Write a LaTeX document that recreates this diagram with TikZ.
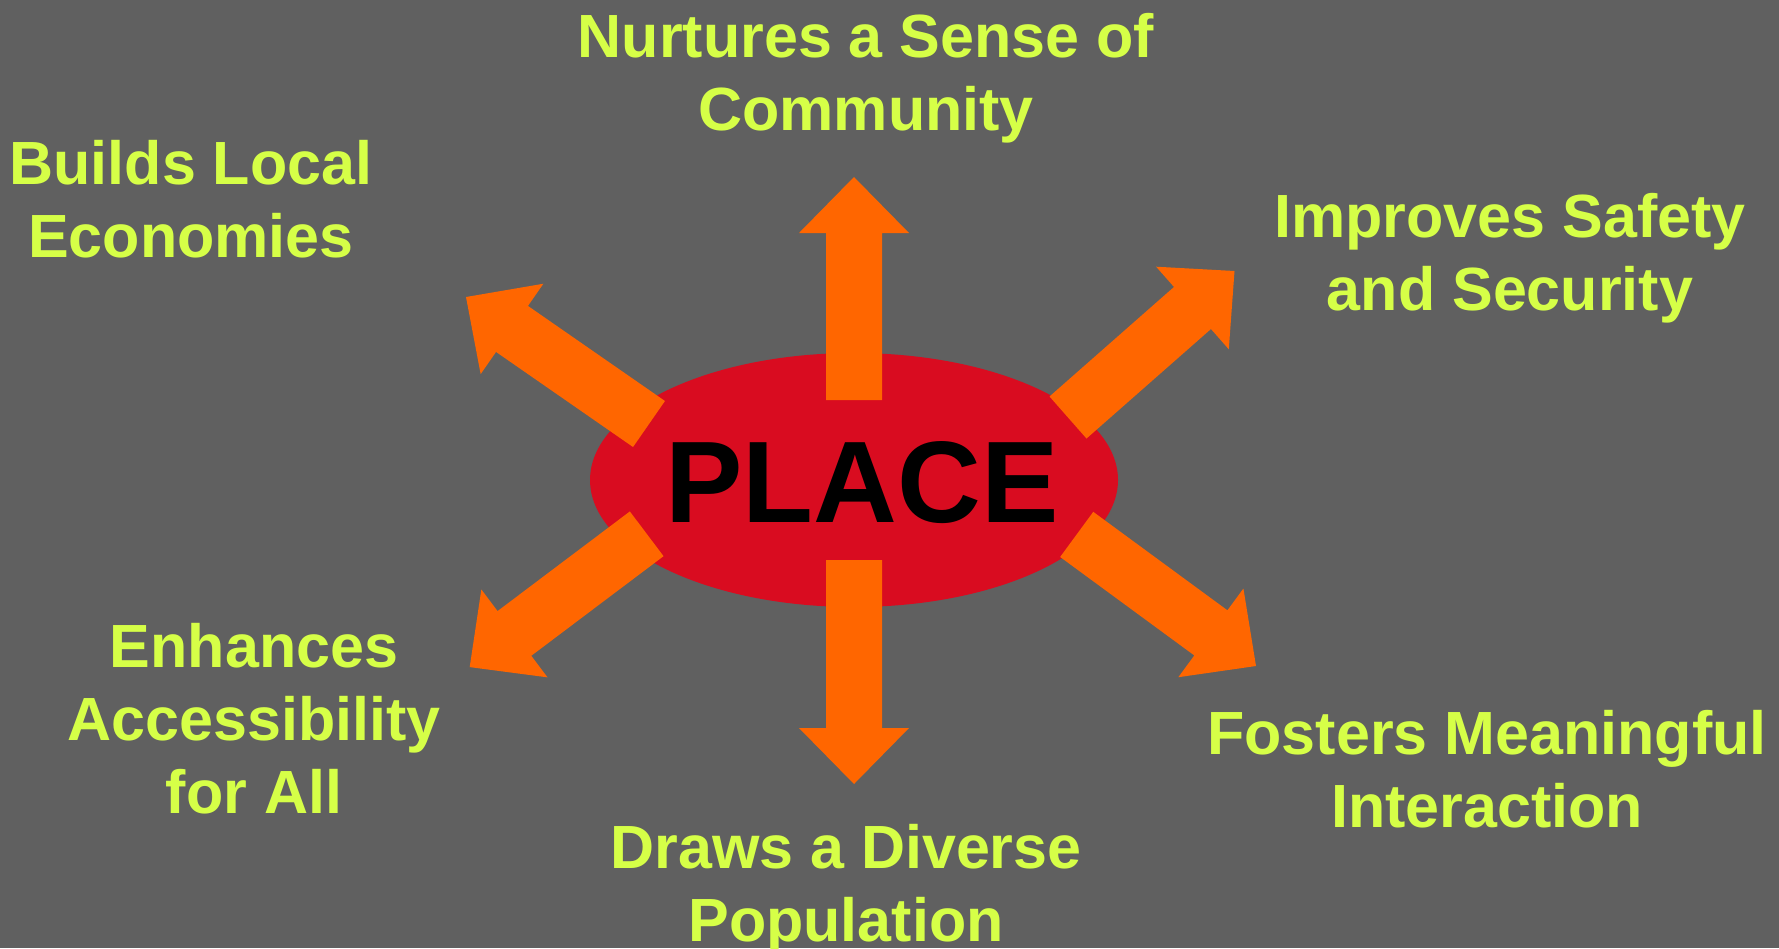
\documentclass[tikz,border=0pt]{standalone}
\usepackage{fontspec}
\setmainfont{Liberation Sans}
\usetikzlibrary{calc,shapes.geometric}

\definecolor{boardgrey}{HTML}{606060}
\definecolor{placered}{HTML}{D90C20}
\definecolor{spokeorange}{HTML}{FF6600}
\definecolor{goallime}{HTML}{D6FF47}

% block arrow from #1 (tail) to #2 (tip)
\newcommand\spokearrow[2]{%
  \coordinate (hb) at ($(#2)!56pt!(#1)$);
  \fill[spoke] ($(#1)!28pt!90:(#2)$) -- ($(hb)!28pt!90:(#2)$) -- ($(hb)!55pt!90:(#2)$)
    -- (#2) -- ($(hb)!55pt!-90:(#2)$) -- ($(hb)!28pt!-90:(#2)$) -- ($(#1)!28pt!-90:(#2)$) -- cycle;}

\begin{document}
\begin{tikzpicture}[x=1pt,y=-1pt,
  goal/.style={text=goallime,font=\bfseries\fontsize{61}{73}\selectfont,align=center,inner sep=0pt,anchor=base},
  spoke/.style={fill=spokeorange}]
\fill[boardgrey] (0,0) rectangle (1779,948);
\useasboundingbox (0,0) rectangle (1779,948);

\node[ellipse,fill=placered,minimum width=528pt,minimum height=254pt,inner sep=0pt] (place) at (854,480) {};

% tails and tips of the six spokes
\coordinate (upT) at (854,400);    \coordinate (upH) at (854,177);
\coordinate (dnT) at (854,560);    \coordinate (dnH) at (854,784);
\coordinate (ulT) at (649,424);    \coordinate (ulH) at (466,297);
\coordinate (urT) at (1068,417.5); \coordinate (urH) at (1234.5,271);
\coordinate (llT) at (646.7,533.8); \coordinate (llH) at (469.7,667.1);
\coordinate (lrT) at (1076.7,534.4); \coordinate (lrH) at (1256,666);

\spokearrow{upT}{upH}
\spokearrow{dnT}{dnH}
\spokearrow{ulT}{ulH}
\spokearrow{urT}{urH}
\spokearrow{llT}{llH}
\spokearrow{lrT}{lrH}

\node[font=\bfseries\fontsize{116}{120}\selectfont,inner sep=0pt] (placetxt) at (862,483) {PLACE};

% base anchor sits on the last line
\node[goal] (community) at (866,130) {Nurtures a Sense of\\Community};
\node[goal] (economies) at (191,257) {Builds Local\\Economies};
\node[goal] (safety) at (1510,310) {Improves Safety\\and Security};
\node[goal] (access) at (254,813) {Enhances\\Accessibility\\for All};
\node[goal] (diverse) at (846,941) {Draws a Diverse\\Population};
\node[goal] (interaction) at (1487,827.5) {Fosters Meaningful\\Interaction};
\end{tikzpicture}
\end{document}
